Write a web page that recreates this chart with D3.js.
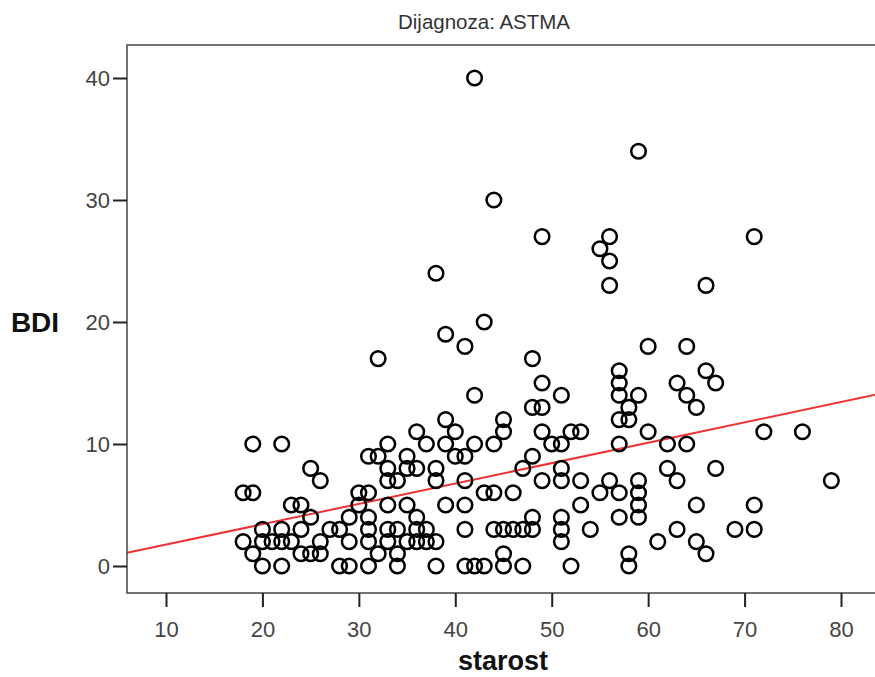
<!DOCTYPE html>
<html>
<head>
<meta charset="utf-8">
<script src="https://cdn.jsdelivr.net/npm/d3@7"></script>
<style>
  html, body { margin: 0; padding: 0; background: #fff; }
  svg { display: block; }
</style>
</head>
<body>
<svg id="chart" width="875" height="677"></svg>
<script>
// Age (starost) and BDI score for each patient, diagnosis: asthma
const ages = [
  42, 59, 44, 49, 56, 71, 55, 56, 38, 56, 66, 43, 39, 41, 60, 64, 32, 48,
  57, 66, 49, 57, 63, 67, 42, 51, 57, 59, 64, 48, 49, 58, 65, 39, 45, 57, 58,
  36, 40, 45, 49, 52, 53, 60, 72, 76,
  19, 22, 33, 37, 39, 42, 44, 50, 51, 57, 62, 64,
  31, 32, 35, 40, 41, 48,
  25, 33, 35, 36, 38, 47, 51, 62, 67,
  26, 33, 34, 38, 41, 49, 51, 53, 56, 59, 63, 79,
  18, 19, 30, 31, 43, 44, 46, 55, 57, 59,
  23, 24, 30, 33, 35, 39, 41, 53, 59, 65, 71,
  25, 29, 31, 36, 48, 51, 57, 59,
  20, 22, 24, 27, 28, 31, 33, 34, 36, 37, 41, 44, 45, 46, 47, 48, 51, 54, 63, 69, 71,
  18, 20, 21, 22, 23, 26, 29, 31, 33, 35, 36, 37, 38, 51, 61, 65,
  19, 24, 25, 26, 32, 34, 45, 58, 66,
  20, 22, 28, 29, 31, 34, 38, 41, 42, 43, 45, 47, 52, 58
];
const bdi = [
  40, 34, 30, 27, 27, 27, 26, 25, 24, 23, 23, 20, 19, 18, 18, 18, 17, 17,
  16, 16, 15, 15, 15, 15, 14, 14, 14, 14, 14, 13, 13, 13, 13, 12, 12, 12, 12,
  11, 11, 11, 11, 11, 11, 11, 11, 11,
  10, 10, 10, 10, 10, 10, 10, 10, 10, 10, 10, 10,
  9, 9, 9, 9, 9, 9,
  8, 8, 8, 8, 8, 8, 8, 8, 8,
  7, 7, 7, 7, 7, 7, 7, 7, 7, 7, 7, 7,
  6, 6, 6, 6, 6, 6, 6, 6, 6, 6,
  5, 5, 5, 5, 5, 5, 5, 5, 5, 5, 5,
  4, 4, 4, 4, 4, 4, 4, 4,
  3, 3, 3, 3, 3, 3, 3, 3, 3, 3, 3, 3, 3, 3, 3, 3, 3, 3, 3, 3, 3,
  2, 2, 2, 2, 2, 2, 2, 2, 2, 2, 2, 2, 2, 2, 2, 2,
  1, 1, 1, 1, 1, 1, 1, 1, 1,
  0, 0, 0, 0, 0, 0, 0, 0, 0, 0, 0, 0, 0, 0
];

// Linear fit line: BDI = intercept + slope * starost
const fitIntercept = 0.08;
const fitSlope = 0.167;

const xTicks = [10, 20, 30, 40, 50, 60, 70, 80];
const yTicks = [0, 10, 20, 30, 40];

const title = "Dijagnoza: ASTMA";
const xTitle = "starost";
const yTitle = "BDI";

const svg = d3.select("#chart");

// Frame of the plotting area (right edge runs past the window)
const frame = { left: 127, top: 45, right: 895, bottom: 593 };

const x = d3.scaleLinear().domain([10, 80]).range([166, 841]);
const y = d3.scaleLinear().domain([0, 40]).range([566, 78]);

const font = "'Liberation Sans', Arial, sans-serif";

// Title
svg.append("text")
  .attr("x", 484).attr("y", 29)
  .attr("text-anchor", "middle")
  .attr("font-family", font)
  .attr("font-size", 20.5)
  .attr("fill", "#333")
  .text(title);

// Clip everything drawn in the plot to the frame
svg.append("clipPath").attr("id", "plotClip")
  .append("rect")
  .attr("x", frame.left).attr("y", frame.top)
  .attr("width", frame.right - frame.left)
  .attr("height", frame.bottom - frame.top);

const plot = svg.append("g").attr("clip-path", "url(#plotClip)");

// Fit line across the full x range of the frame
const xLo = x.invert(frame.left), xHi = x.invert(frame.right);
plot.append("line")
  .attr("x1", x(xLo)).attr("y1", y(fitIntercept + fitSlope * xLo))
  .attr("x2", x(xHi)).attr("y2", y(fitIntercept + fitSlope * xHi))
  .attr("stroke", "#ee3333")
  .attr("stroke-width", 2);

// Points
plot.selectAll("circle.pt")
  .data(d3.range(ages.length))
  .join("circle")
  .attr("class", "pt")
  .attr("cx", i => x(ages[i]))
  .attr("cy", i => y(bdi[i]))
  .attr("r", 7.3)
  .attr("fill", "none")
  .attr("stroke", "#000")
  .attr("stroke-width", 2.5);

// Frame
svg.append("rect")
  .attr("x", frame.left).attr("y", frame.top)
  .attr("width", frame.right - frame.left)
  .attr("height", frame.bottom - frame.top)
  .attr("fill", "none")
  .attr("stroke", "#444")
  .attr("stroke-width", 1.5);

// Axes
const xAxis = d3.axisBottom(x).tickValues(xTicks).tickSize(14).tickPadding(14).tickFormat(d3.format("d"));
const yAxis = d3.axisLeft(y).tickValues(yTicks).tickSize(14).tickPadding(3).tickFormat(d3.format("d"));

const gx = svg.append("g").attr("transform", `translate(0,${frame.bottom})`).call(xAxis);
const gy = svg.append("g").attr("transform", `translate(${frame.left},0)`).call(yAxis);

[gx, gy].forEach(g => {
  g.select(".domain").remove();
  g.selectAll(".tick line").attr("stroke", "#222").attr("stroke-width", 2);
  g.selectAll(".tick text")
    .attr("font-family", font)
    .attr("font-size", 22)
    .attr("fill", "#444");
});

// Axis titles
svg.append("text")
  .attr("x", 503).attr("y", 670)
  .attr("text-anchor", "middle")
  .attr("font-family", font)
  .attr("font-size", 27)
  .attr("font-weight", "bold")
  .attr("fill", "#111")
  .text(xTitle);

svg.append("text")
  .attr("x", 35).attr("y", 332)
  .attr("text-anchor", "middle")
  .attr("font-family", font)
  .attr("font-size", 28)
  .attr("font-weight", "bold")
  .attr("fill", "#111")
  .text(yTitle);
</script>
</body>
</html>
